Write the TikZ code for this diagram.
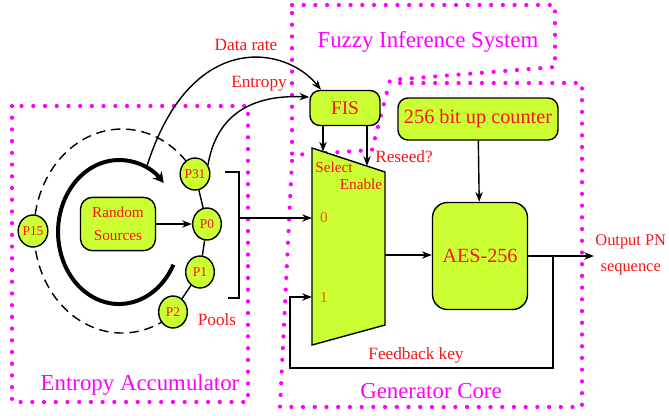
\documentclass[tikz,border=0pt]{standalone}
\usepackage{fontspec}
\setmainfont{Liberation Serif}
\usetikzlibrary{arrows.meta, positioning, shapes.geometric, backgrounds}

\definecolor{limefill}{RGB}{204,255,51}
\definecolor{regionpink}{RGB}{255,0,255}
\definecolor{labelred}{RGB}{250,20,20}
\definecolor{digitorange}{RGB}{240,90,10}

\begin{document}
\begin{tikzpicture}[
    x=0.03cm, y=-0.03cm,
    block/.style={
        rectangle,
        draw,
        very thick,
        fill=limefill,
        rounded corners=0.3cm,
        text=labelred,
        align=center
    },
    pool/.style={
        ellipse,
        draw,
        very thick,
        fill=limefill,
        text=labelred,
        inner sep=0pt,
        minimum width=0.86cm,
        minimum height=0.96cm,
        font=\fontsize{11.5}{12}\selectfont
    },
    region/.style={draw=regionpink, line width=3.6pt, line cap=round, dash pattern=on 0pt off 10pt},
    regionlabel/.style={text=regionpink, font=\fontsize{19.5}{22}\selectfont},
    lbl/.style={text=labelred, font=\fontsize{14.7}{22}\selectfont},
    small/.style={text=labelred, font=\fontsize{13}{15}\selectfont},
    >=Stealth
]
\useasboundingbox (0,0) rectangle (669,415);

% dotted regions
\draw[region] (12,106) rectangle (248,402);
\draw[region] (292,5) -- (555,5) -- (555,67) -- (390,80) -- (372,150) -- (292,155) -- cycle;
\draw[region] (400,83) -- (582,83) -- (582,407) -- (280,407) -- (292,160);

\node[regionlabel] (fuzzylbl) at (428,42) {Fuzzy Inference System};
\node[regionlabel] (entlbl) at (140,385) {Entropy Accumulator};
\node[regionlabel] (genlbl) at (431,391) {Generator Core};

% blocks
\node[block, minimum width=2.1cm, minimum height=1.05cm, font=\fontsize{16.5}{18}\selectfont] (fis) at (345,108) {FIS};
\node[block, minimum width=4.8cm, minimum height=1.26cm, font=\fontsize{17.3}{19}\selectfont] (counter) at (478,119) {256 bit up counter};
\node[block, rounded corners=0.45cm, minimum width=2.85cm, minimum height=3.21cm, font=\fontsize{17.2}{19}\selectfont] (aes) at (480,256) {AES-256};
\node[block, rounded corners=0.36cm, minimum width=2.25cm, minimum height=1.6cm, font=\fontsize{13}{19.6}\selectfont] (rand) at (118,224) {Random\\Sources};

% pools
\node[pool] (p31) at (195,174) {P31};
\node[pool] (p0) at (207,224) {P0};
\node[pool] (p1) at (200,272) {P1};
\node[pool] (p2) at (173,312) {P2};
\node[pool] (p15) at (33,231) {P15};

\begin{scope}[on background layer]
\draw[very thick, dash pattern=on 8pt off 5pt] (p31.center) arc[start angle=-34, end angle=-306, x radius=88, y radius=102];
\end{scope}
\draw[very thick] (p31) -- (p0) -- (p1) -- (p2);

% mixing loop
\coordinate (loopstart) at (173.4,264.7);
\draw[line width=3.4pt, -{Stealth[length=9pt, width=10pt]}] (loopstart) arc[start angle=27, end angle=317, x radius=61, y radius=72];
\draw[very thick, ->] (rand) -- (p0);

% fis inputs
\coordinate (drstart) at (147,166);
\draw[very thick, ->] (drstart) .. controls (190,30) and (285,45) .. ([xshift=0.35cm]fis.north west);
\draw[very thick, ->] (p31.35) .. controls (218,105) and (265,95) .. (fis.163);
\node[lbl] (datarate) at (246,45) {Data rate};
\node[lbl] (entropy) at (259,84) {Entropy};

% mux
\coordinate (muxtl) at (312,148);
\coordinate (muxtr) at (385,172);
\coordinate (muxbr) at (385,325);
\coordinate (muxbl) at (312,345);
\draw[very thick, fill=limefill] (muxtl) -- (muxtr) -- (muxbr) -- (muxbl) -- cycle;
\coordinate (in0) at (312,218);
\coordinate (in1) at (312,297);
\coordinate (muxout) at (385,255);
\coordinate (sel) at (323,151.6);
\coordinate (ena) at (367,166);
\node[small] (sellbl) at (334,167) {Select};
\node[small] (enalbl) at (361,184) {Enable};
\node[lbl] (reseed) at (404,157) {Reseed?};
\node[small, text=digitorange] (zero) at (324,218) {0};
\node[small, text=digitorange] (one) at (324,297) {1};

\draw[very thick, ->] (fis.south -| sel) -- (sel);
\draw[very thick, ->] (fis.south -| ena) -- (ena);

% pools bracket
\coordinate (brtop) at (225,172);
\coordinate (brmid) at (239,218);
\coordinate (brbot) at (228,298);
\draw[very thick] (brtop) -| (brmid) |- (brbot);
\draw[very thick, ->] (brmid) -- (in0);
\node[lbl] (pools) at (217,320) {Pools};

% core
\draw[very thick, ->] (muxout) -- (muxout -| aes.west);
\draw[very thick, ->] (counter) -- (aes);
\coordinate (out) at (594,256);
\coordinate (fb) at (553,256);
\coordinate (fbc) at (290,368);
\draw[very thick, ->] (aes) -- (out);
\draw[very thick, ->] (fb) |- (fbc) |- (in1);
\node[lbl, anchor=west, align=center, inner sep=1pt, font=\fontsize{14}{22}\selectfont] (outlbl) at (594,255) {Output PN\\sequence};
\node[lbl] (fblbl) at (416,355) {Feedback key};

\end{tikzpicture}
\end{document}
